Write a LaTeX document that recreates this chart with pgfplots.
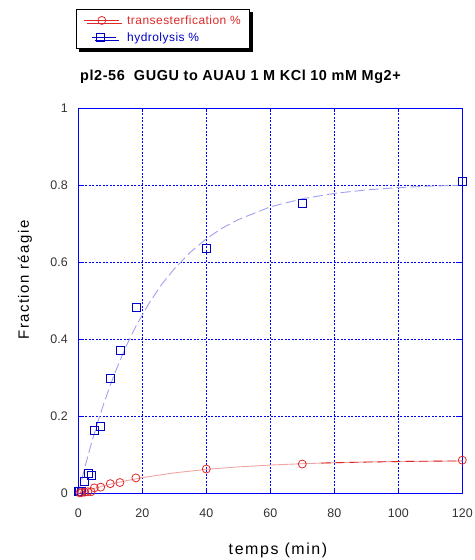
\documentclass[border=0pt]{standalone}
\usepackage{pgfplots}
\pgfplotsset{compat=1.18}
\usepackage{fontspec}
\setmainfont{Liberation Sans}
\newfontfamily\spacedfont[LetterSpace=10]{Liberation Sans}
\newfontfamily\legfont[LetterSpace=4]{Liberation Sans}
\newfontfamily\titlefont[LetterSpace=4]{Liberation Sans Bold}
\usetikzlibrary{shadows}
\definecolor{hydro}{RGB}{0,0,200}
\definecolor{trans}{RGB}{225,40,40}
\definecolor{hydrofit}{RGB}{160,160,240}
\definecolor{transfit}{RGB}{240,165,165}
\pgfplotsset{
  legA/.style={legend image code/.code={\draw[mark repeat=2,mark phase=2,##1] plot coordinates {(0bp,0bp) (18bp,0bp) (35bp,0bp)};}},
  legB/.style={legend image code/.code={\draw[mark repeat=2,mark phase=2,##1] plot coordinates {(8bp,0bp) (17bp,0bp) (32bp,0bp)};}},
}
\begin{document}
\begin{tikzpicture}
\begin{axis}[
  at={(0,0)}, anchor=south west,
  scale only axis, width=384bp, height=385bp,
  xmin=0, xmax=120, ymin=0, ymax=1,
  clip=false,
  xtick={0,20,40,60,80,100,120},
  ytick={0,0.2,0.4,0.6,0.8,1},
  yticklabels={0,0.2,0.4,0.6,0.8,1},
  tick align=inside, major tick length=4bp,
  axis line style={blue, line width=1bp},
  every tick/.style={blue, line width=1bp},
  grid=major,
  major grid style={blue, line width=1bp, dash pattern=on 2bp off 1.5bp},
  /pgf/number format/assume math mode=true,
  ticklabel style={font=\fontsize{12.5}{14}\selectfont, text=black!80},
  xticklabel style={yshift=-12bp},
  yticklabel style={xshift=-7bp},
  xlabel={\spacedfont\fontsize{16}{18}\selectfont temps (min)},
  xlabel style={at={(axis description cs:0.52,-0.147)}, anchor=center},
  ylabel={\spacedfont\fontsize{15}{18}\selectfont Fraction réagie},
  ylabel style={at={(axis description cs:-0.139,0.554)}, anchor=center},
  title={pl2-56\ \ GUGU to AUAU 1 M KCl 10 mM Mg2+},
  title style={at={(axis description cs:0.0044,1.056)}, anchor=base west,
    inner sep=0pt, font=\titlefont\fontsize{14.5}{17}\selectfont},
  legend style={at={(axis description cs:-0.006,1.258)}, anchor=north west,
    draw=black, line width=0.8bp, fill=white,
    drop shadow={shadow xshift=3bp, shadow yshift=-3bp, fill=black, opacity=1},
    font=\legfont\fontsize{12}{14}\selectfont,
    inner xsep=7bp, inner ysep=4bp, row sep=3bp, column sep=6bp},
  legend cell align=left,
]
\addlegendimage{trans, line width=0.8bp, mark=o, mark size=4bp, legA}
\addlegendentry{\textcolor{trans}{transesterfication \%}}
\addlegendimage{hydro, line width=0.8bp, mark=square, mark size=4bp, legB}
\addlegendentry{\textcolor{hydro}{hydrolysis \%}}

% fitted curves
\addplot[forget plot, hydrofit, line width=0.9bp, dash pattern=on 10bp off 4bp] coordinates {
(0,0) (2,0.066) (4,0.127) (6,0.183) (8,0.234) (10,0.281) (12,0.324) (15,0.383)
(18,0.434) (22,0.492) (26,0.542) (30,0.583) (35,0.626) (40,0.661) (45,0.689)
(50,0.711) (60,0.744) (70,0.765) (80,0.779) (90,0.788) (100,0.794) (110,0.798) (120,0.800)};
\addplot[forget plot, transfit, line width=0.9bp] coordinates {
(0,0) (2,0.0053) (5,0.0127) (10,0.0236) (15,0.0328) (20,0.0407) (30,0.0531)
(40,0.0621) (50,0.0686) (60,0.0734) (70,0.0769) (80,0.0794) (90,0.0812)
(100,0.0825) (110,0.0834) (120,0.0841)};
\addplot[forget plot, trans, line width=0.9bp, dash pattern=on 9bp off 5bp] coordinates {
(76,0.0785) (80,0.0794) (90,0.0812) (100,0.0825) (110,0.0834) (120,0.0841)};

% data
\addplot[forget plot, only marks, hydro, mark=square, mark size=4bp, line width=0.8bp] coordinates {
(0,0.004) (0.5,0.005) (1,0.006) (2,0.032) (3,0.051) (4,0.047) (5,0.163) (7,0.173)
(10,0.299) (13,0.372) (18,0.482) (40,0.636) (70,0.753) (120,0.809)};
\addplot[forget plot, only marks, trans, mark=o, mark size=4bp, line width=0.8bp] coordinates {
(0.5,0.001) (1,0.002) (2,0.003) (3,0.004) (4,0.004) (5,0.014) (7,0.016)
(10,0.025) (13,0.028) (18,0.040) (40,0.063) (70,0.076) (120,0.086)};
\end{axis}
\pgfresetboundingbox
\path (-78.3bp,-66.7bp) rectangle (396.7bp,493.3bp);
\end{tikzpicture}
\end{document}
